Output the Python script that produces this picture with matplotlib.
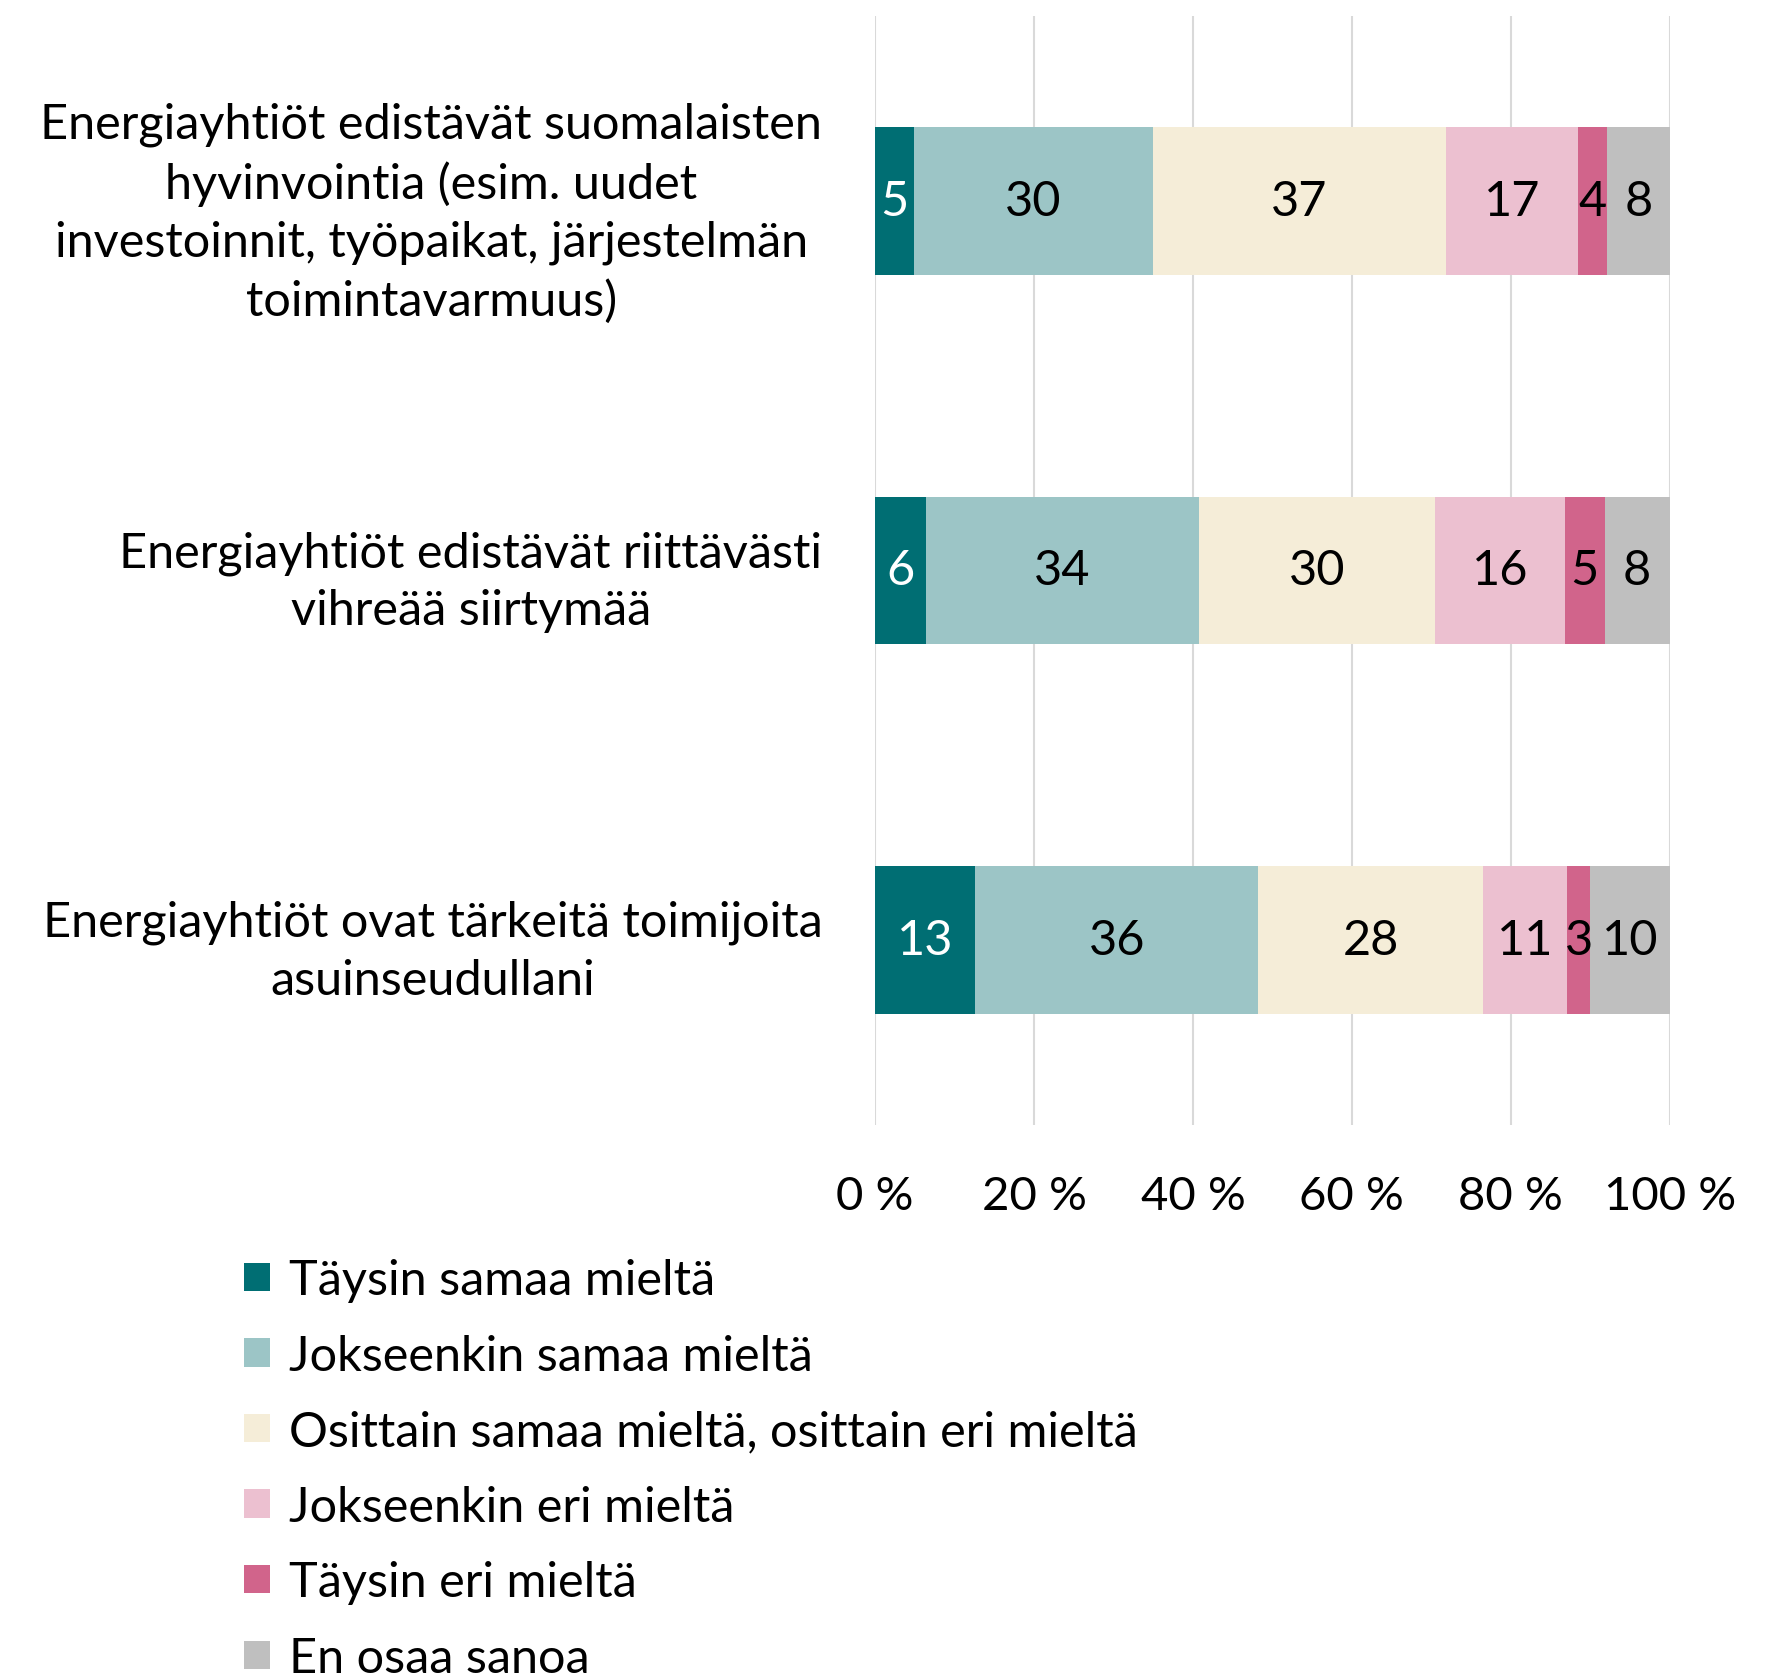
import matplotlib.pyplot as plt
from matplotlib.patches import Patch
import numpy as np

plt.rcParams['font.family'] = ['Lato', 'DejaVu Sans']

statements = [
    "Energiayhtiöt edistävät suomalaisten\nhyvinvointia (esim. uudet\ninvestoinnit, työpaikat, järjestelmän\ntoimintavarmuus)",
    "Energiayhtiöt edistävät riittävästi\nvihreää siirtymää",
    "Energiayhtiöt ovat tärkeitä toimijoita\nasuinseudullani",
]
answers = [
    "Täysin samaa mieltä",
    "Jokseenkin samaa mieltä",
    "Osittain samaa mieltä, osittain eri mieltä",
    "Jokseenkin eri mieltä",
    "Täysin eri mieltä",
    "En osaa sanoa",
]
# shares per answer, one value per statement
taysin_samaa = [4.9, 6.4, 12.6]
jokseenkin_samaa = [30.1, 34.4, 35.6]
osittain = [36.8, 29.6, 28.3]
jokseenkin_eri = [16.6, 16.4, 10.6]
taysin_eri = [3.7, 5.0, 2.9]
eos = [7.9, 8.2, 10.0]
series = [taysin_samaa, jokseenkin_samaa, osittain, jokseenkin_eri, taysin_eri, eos]

colors = ["#006E73", "#9CC5C6", "#F5EDD8", "#ECC0D0", "#D1648B", "#BFBFBF"]
label_colors = ["white", "black", "black", "black", "black", "black"]

fig = plt.figure(figsize=(17.84, 16.81), dpi=100)
ax = fig.add_axes([0.4905, 0.3302, 0.4455, 0.6597])

y = np.arange(len(statements))
left = np.zeros(len(statements))
for vals, col, tcol in zip(series, colors, label_colors):
    vals = np.array(vals)
    bars = ax.barh(y, vals, left=left, height=0.4, color=col, zorder=2)
    ax.bar_label(bars, labels=[f"{v:.0f}" for v in vals], label_type="center",
                 color=tcol, fontsize=35)
    left += vals

ax.set_xlim(0, 100)
ax.set_ylim(2.5, -0.5)
ax.set_xticks(np.arange(0, 101, 20))
ax.set_xticklabels([f"{t} %" for t in range(0, 101, 20)], fontsize=34)
ax.set_yticks(y)
ax.set_yticklabels(statements, fontsize=35, ma="center", linespacing=1.38)
ax.tick_params(axis="both", length=0)
ax.tick_params(axis="x", pad=36)
ax.tick_params(axis="y", pad=38)
ax.grid(axis="x", color="#D9D9D9", linewidth=1.5, zorder=0)
for s in ax.spines.values():
    s.set_visible(False)

handles = [Patch(facecolor=c) for c in colors]
fig.legend(handles, answers, loc="upper left", bbox_to_anchor=(0.137, 0.251),
           frameon=False, fontsize=35, handlelength=0.52, handleheight=0.52,
           handletextpad=0.4, labelspacing=0.65, borderpad=0, borderaxespad=0)

fig.savefig("out.png", dpi=100, facecolor="white")
